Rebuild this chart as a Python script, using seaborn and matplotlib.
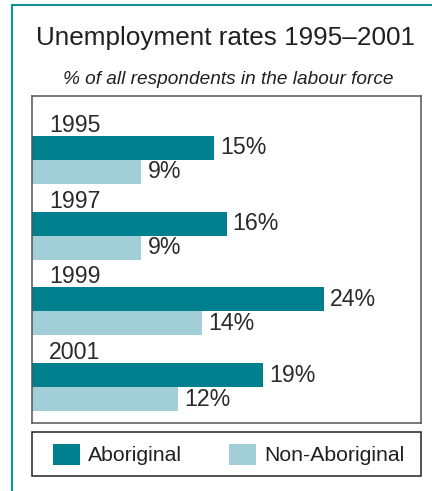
import matplotlib
matplotlib.use("Agg")
import matplotlib.pyplot as plt
import seaborn as sns
import pandas as pd
from matplotlib.patches import Rectangle, Patch

# Unemployment rate (%) by survey year
years = ["1995", "1997", "1999", "2001"]
groups = ["Aboriginal", "Non-Aboriginal"]
aboriginal = [15, 16, 24, 19]
non_aboriginal = [9, 9, 14, 12]

title = "Unemployment rates 1995\u20132001"
subtitle = "% of all respondents in the labour force"

TEAL = "#00808F"
LIGHT = "#A2CFD7"
INK = "#231F20"

df = pd.DataFrame({
    "year": years * 2,
    "group": [groups[0]] * len(years) + [groups[1]] * len(years),
    "rate": aboriginal + non_aboriginal,
})

sns.set_theme(style="white")
plt.rcParams["font.family"] = ["Liberation Sans", "DejaVu Sans"]

W, H = 432, 491
fig = plt.figure(figsize=(W / 100, H / 100), dpi=100)


def fx(px):
    return px / W


def fy(py):
    return 1 - py / H


# outer teal panel edge
fig.add_artist(Rectangle((fx(11.5), -0.1), 1.2, fy(4.5) + 0.1,
                         transform=fig.transFigure, fill=False,
                         ec="#12909A", lw=1.5))

ax = fig.add_axes([fx(32), fy(423), fx(421) - fx(32), fy(96) - fy(423)])
bar_w = 0.634
sns.barplot(data=df, y="year", x="rate", hue="group", order=years,
            hue_order=groups, palette=[TEAL, LIGHT], width=bar_w,
            orient="h", errorbar=None, saturation=1, linewidth=0,
            legend=False, ax=ax)

ax.set_xlim(0, 32)
ax.set_ylim(3.474, -0.845)
ax.set(xlabel="", ylabel="", xticks=[], yticks=[])
for sp in ax.spines.values():
    sp.set_visible(True)
    sp.set_color("#555555")
    sp.set_linewidth(1.1)

for cont in ax.containers:
    ax.bar_label(cont, labels=[f"{v:g}%" for v in cont.datavalues],
                 padding=4.3, fontsize=16.7, color="#2a2a2a")

for i, yr in enumerate(years):
    ax.annotate(yr, xy=(0, i - bar_w / 2), xytext=(12.5, 2.9),
                textcoords="offset points", va="baseline", ha="left",
                fontsize=16.7, color="#2a2a2a")

fig.text(fx(225), fy(45), title, ha="center", va="baseline",
         fontsize=18.8, color=INK)
fig.text(fx(228), fy(84), subtitle, ha="center", va="baseline",
         fontsize=13.7, style="italic", color=INK)

# legend box
fig.add_artist(Rectangle((fx(32), fy(476)), fx(421) - fx(32),
                         fy(432) - fy(476), transform=fig.transFigure,
                         fill=False, ec="#222222", lw=1.1))
fig.legend(handles=[Patch(color=TEAL, lw=0), Patch(color=LIGHT, lw=0)],
           labels=groups, loc="center",
           bbox_to_anchor=(fx(228.5), fy(454.5)), ncol=2, frameon=False,
           fontsize=15.3, handlelength=1.27, handleheight=1.18,
           handletextpad=0.38, columnspacing=2.2, borderpad=0,
           borderaxespad=0, labelcolor=INK)

fig.savefig("out.png", dpi=100)
